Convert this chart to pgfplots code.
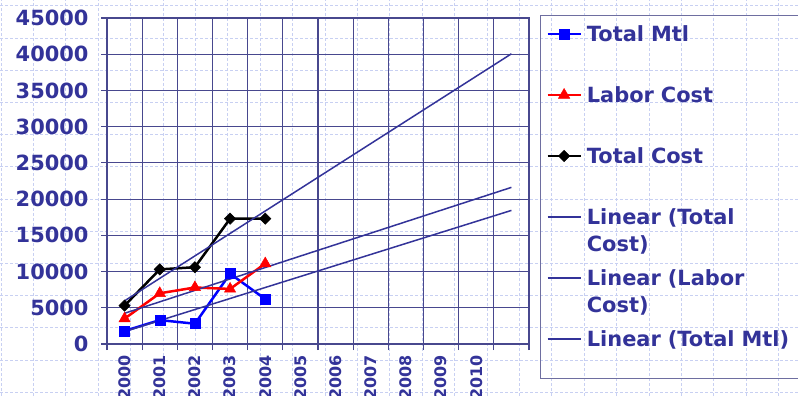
\documentclass[border=0pt]{standalone}
\usepackage{pgfplots}
\pgfplotsset{compat=1.18}
\usepackage{fontspec}
\setmainfont{DejaVu Sans}
\definecolor{navy}{RGB}{51,51,153}
\definecolor{gridnavy}{RGB}{72,72,142}
\definecolor{bggrid}{RGB}{200,208,242}
\definecolor{legframe}{RGB}{110,110,160}

\begin{document}
\begin{tikzpicture}
% page area and dashed backdrop grid
\path[use as bounding box, clip] (0,0) rectangle (798bp,396bp);
\fill[white] (0,0) rectangle (798bp,396bp);
\foreach \i in {0,...,24}
  \draw[bggrid, line width=0.8bp, dash pattern=on 3bp off 2bp]
    ({(1+\i*32.4)*1bp},0) -- ++(0,396bp);
\foreach \j in {0,...,12}
  \draw[bggrid, line width=0.8bp, dash pattern=on 3bp off 2bp]
    (0,{(390.2-\j*32.2)*1bp}) -- ++(798bp,0);

\begin{axis}[
  at={(107bp,52bp)}, anchor=south west,
  scale only axis, width=422bp, height=326bp,
  xmin=0.5, xmax=12.5, ymin=0, ymax=45000,
  axis line style={gridnavy, line width=1.2bp},
  grid style={gridnavy, line width=1.2bp},
  xmajorgrids, ymajorgrids,
  xtick={0.5,1.5,2.5,3.5,4.5,5.5,6.5,7.5,8.5,9.5,10.5,11.5,12.5},
  xticklabels={,,,,,,,,,,,,},
  extra x ticks={1,2,3,4,5,6,7,8,9,10,11},
  extra x tick labels={2000,2001,2002,2003,2004,2005,2006,2007,2008,2009,2010},
  extra x tick style={grid=none, major tick length=0pt},
  ytick={0,5000,...,45000},
  scaled y ticks=false,
  tick align=outside, tick pos=left,
  major tick length=6bp,
  tick style={gridnavy, line width=1.2bp},
  /pgf/number format/assume math mode=true,
  yticklabel style={font=\fontsize{21}{25}\selectfont\bfseries, text=navy,
    xshift=-9bp,
    /pgf/number format/fixed, /pgf/number format/1000 sep={}},
  xticklabel style={font=\fontsize{16}{19}\selectfont\bfseries, text=navy,
    yshift=-8bp, rotate=90, anchor=east},
  legend image code/.code={%
    \draw[mark repeat=2, mark phase=2, #1]
      plot coordinates {(0bp,7bp) (16.5bp,7bp) (33bp,7bp)};},
  legend style={
    at={(1.026,1.0092)}, anchor=north west,
    draw=legframe, line width=0.8bp, fill=none,
    inner sep=6bp, row sep=5bp, column sep=5bp,
    font=\fontsize{21}{28}\selectfont\bfseries, text=navy,
    cells={anchor=base west},
    nodes={text width=215bp, align=left, inner xsep=0pt, inner ysep=0pt,
      text height=19.6bp, text depth=36.4bp}},
]
% data series
\addplot[blue, line width=2.5bp, mark=square*, mark size=5bp,
  mark options={line width=0.5bp}]
  coordinates {(1,1800) (2,3300) (3,2800) (4,9700) (5,6200)};
\addlegendentry{Total Mtl}
\addplot[red, line width=2.5bp, mark=triangle*, mark size=6.5bp,
  mark options={line width=0.5bp}]
  coordinates {(1,3500) (2,7000) (3,7800) (4,7600) (5,11100)};
\addlegendentry{Labor Cost}
\addplot[black, line width=2.5bp, mark=square*, mark size=4bp,
  mark options={rotate=45, line width=0.5bp}]
  coordinates {(1,5300) (2,10300) (3,10600) (4,17300) (5,17300)};
\addlegendentry{Total Cost}
% linear trends, extended seven periods forward
\addplot[navy, line width=1.5bp, no markers] coordinates {(1,5960) (12,40060)};
\addlegendentry{Linear (Total\\Cost)}
\addplot[navy, line width=1.5bp, no markers] coordinates {(1,4240) (12,21620)};
\addlegendentry{Linear (Labor\\Cost)}
\addplot[navy, line width=1.5bp, no markers] coordinates {(1,1720) (12,18440)};
\addlegendentry[text depth=26bp]{Linear (Total Mtl)}
\end{axis}
\end{tikzpicture}
\end{document}
